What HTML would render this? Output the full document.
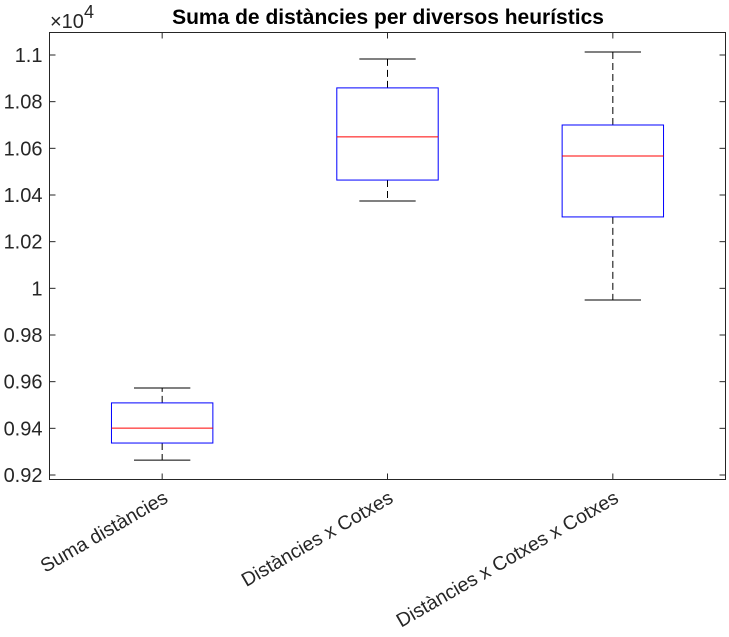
<!DOCTYPE html>
<html><head><meta charset="utf-8"><style>
body{margin:0;background:#fff;}
svg{display:block;font-family:"Liberation Sans",Arial,sans-serif;}
</style></head><body>
<svg id="chart" width="729" height="637" viewBox="0 0 729 637" xmlns="http://www.w3.org/2000/svg">
<rect width="729" height="637" fill="#fff"/>
<text x="388" y="24" text-anchor="middle" font-size="21" font-weight="bold" fill="#000">Suma de distàncies per diversos heurístics</text>
<text x="50" y="28" font-size="20" fill="#262626">×10<tspan dy="-10" font-size="18">4</tspan></text>
<g id="plot"></g>
<rect x="49.5" y="32.5" width="676" height="447" fill="none" stroke="#262626" stroke-width="1"/>
</svg>
<script>
const categories=["Suma distàncies","Distàncies x Cotxes","Distàncies x Cotxes x Cotxes"];
const whiskerLow=[0.9264,1.0374,0.9950];
const q1=[0.9337,1.0464,1.0306];
const median=[0.9401,1.0649,1.0567];
const q3=[0.9509,1.0859,1.0700];
const whiskerHigh=[0.9573,1.0983,1.1013];
const yTicks=[0.92,0.94,0.96,0.98,1,1.02,1.04,1.06,1.08,1.1];
const yTickLabels=["0.92","0.94","0.96","0.98","1","1.02","1.04","1.06","1.08","1.1"];

const L=49.5,R=725.5,T=32.5,B=479.5;
const yMin=0.91807,yMax=1.10964;
function yS(v){return B-(v-yMin)/(yMax-yMin)*(B-T);}
function xS(i){return L+(i+0.5)/categories.length*(R-L);}
const unit=(R-L)/categories.length;
const NS="http://www.w3.org/2000/svg";
const g=document.getElementById('plot');
function mk(tag,attrs){const e=document.createElementNS(NS,tag);for(const k in attrs)e.setAttribute(k,attrs[k]);g.appendChild(e);return e;}

yTicks.forEach((v,i)=>{
  const y=yS(v);
  const t=mk('line',{x1:L,x2:L+6,y1:y,y2:y,stroke:'#262626'});
  
  
  const t2=mk('line',{x1:R,x2:R-6,y1:y,y2:y,stroke:'#262626'});
  
  
  const lb=mk('text',{x:L-7,y:y+7,'text-anchor':'end','font-size':20,fill:'#262626'});
  lb.textContent=yTickLabels[i];
  
  
});

categories.forEach((c,i)=>{
  const x=xS(i),hw=unit*0.225,cw=unit*0.125;
  const xt=mk('line',{x1:x,x2:x,y1:B,y2:B-6,stroke:'#262626'});
  
  
  const xt2=mk('line',{x1:x,x2:x,y1:T,y2:T+6,stroke:'#262626'});
  
  
  const w1=mk('line',{x1:x,x2:x,y1:yS(q3[i]),y2:yS(whiskerHigh[i]),stroke:'#000','stroke-dasharray':'7,4'});
  
  
  const w2=mk('line',{x1:x,x2:x,y1:yS(q1[i]),y2:yS(whiskerLow[i]),stroke:'#000','stroke-dasharray':'7,4'});
  
  
  const c1=mk('line',{x1:x-cw,x2:x+cw,y1:yS(whiskerHigh[i]),y2:yS(whiskerHigh[i]),stroke:'#000'});
  
  
  const c2=mk('line',{x1:x-cw,x2:x+cw,y1:yS(whiskerLow[i]),y2:yS(whiskerLow[i]),stroke:'#000'});
  
  
  const bx=mk('rect',{x:x-hw,y:yS(q3[i]),width:2*hw,height:yS(q1[i])-yS(q3[i]),fill:'none',stroke:'#0000ff'});
  
  
  const md=mk('line',{x1:x-hw,x2:x+hw,y1:yS(median[i]),y2:yS(median[i]),stroke:'#ff0000'});
  
  
  const lb=mk('text',{x:x+7,y:B+22,'text-anchor':'end','font-size':19.5,fill:'#262626',transform:`rotate(-30 ${x+7} ${B+22})`});
  lb.textContent=c;
  
  
});
</script>
</body></html>
